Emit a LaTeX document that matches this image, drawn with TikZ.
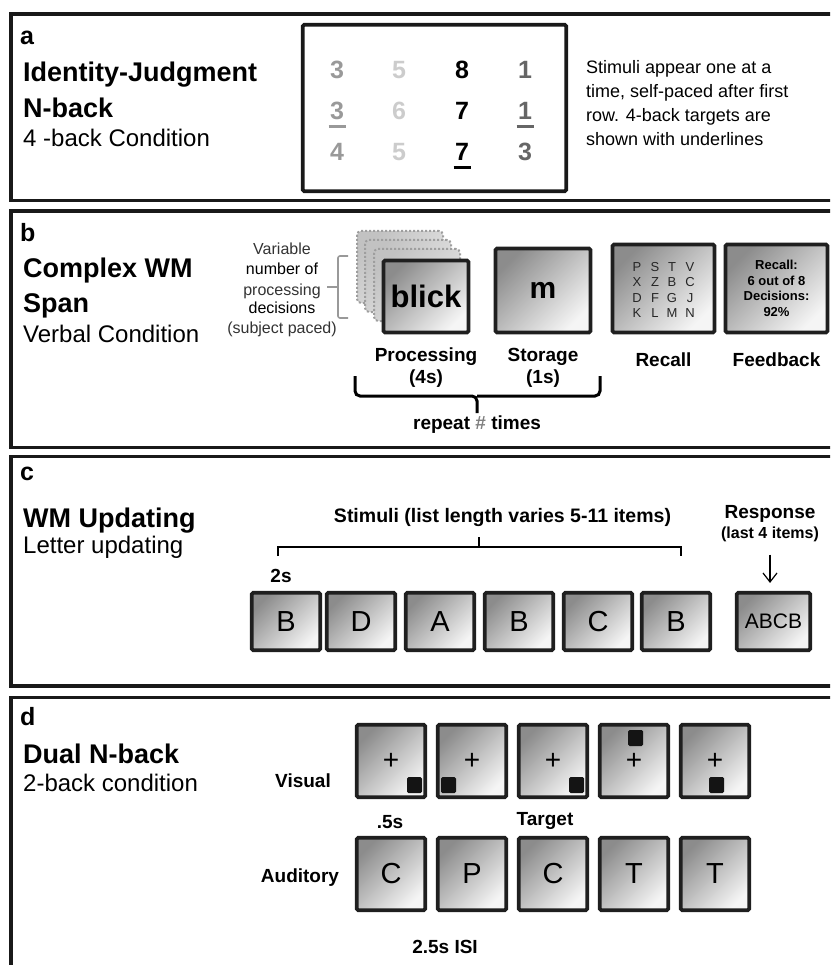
\documentclass[tikz,border=0pt]{standalone}
\usepackage{fontspec}
\setmainfont{Liberation Sans}
\usetikzlibrary{arrows.meta}

\newcommand{\fs}[1]{\fontsize{#1}{#1}\selectfont}

\begin{document}
\begin{tikzpicture}[x=1pt, y=-1pt,
        panel/.style={draw=black!90, line width=3.6pt},
        card/.style={draw=black!88, line width=3.6pt, rounded corners=1.5pt, inner sep=0pt,
            top color=black!45, bottom color=black!4, shading angle=45},
        ghost/.style={draw=black!38, line width=2pt, dotted, rounded corners=4pt, inner sep=0pt,
            top color=black!24, bottom color=black!9, shading angle=45},
        lbl/.style={inner sep=0pt, anchor=base},
        tag/.style={lbl, anchor=base west, font=\bfseries\fs{25}},
        head/.style={lbl, anchor=base west, font=\bfseries\fs{27}},
        sub/.style={lbl, anchor=base west, font=\fs{24}},
        boldlbl/.style={lbl, font=\bfseries\fs{19}}]
        \useasboundingbox (0,0) rectangle (830,965);
        \clip (0,0) rectangle (830,965);

        % a
        \draw[panel] (11,14.3) rectangle (850,200.7);
        \node[tag] (atag) at (20,45) {a};
        \node[head] (ahead) at (23,82) {Identity-Judgment};
        \node[head] (ahead2) at (23,118) {N-back};
        \node[sub] (asub) at (23,147) {4 -back Condition};
        \node[draw=black!90, line width=3.6pt, rounded corners=1.5pt, minimum width=263.5pt, minimum height=166.5pt] (grid) at (434.5,108) {};
        \foreach \d/\x/\y/\c [count=\i] in {3/337/79/black!40, 5/399/79/black!20, 8/462/79/black, 1/525/79/black!60,
                3/337/120/black!40, 6/399/120/black!20, 7/462/120/black, 1/525/120/black!60,
                4/337/161/black!40, 5/399/161/black!20, 7/462/161/black, 3/525/161/black!60}
            \node[lbl, font=\bfseries\fs{25}, text=\c] (n\i) at (\x,\y) {\d};
        \foreach \i/\c in {5/black!40, 8/black!60, 11/black}
            \draw[line width=3pt, \c] ([xshift=-8.5pt, yshift=-6.5pt]n\i.base) -- ++(17,0);
        \foreach \t/\y [count=\i] in {{Stimuli appear one at a}/74, {time, self-paced after first}/98,
                {row.  4-back targets are}/122, {shown with underlines}/146}
            \node[lbl, anchor=base west, font=\fs{18}] (anote\i) at (586,\y) {\t};

        % b
        \draw[panel] (11,211.3) rectangle (850,447.5);
        \node[tag] (btag) at (20,242) {b};
        \node[head] (bhead) at (23,277) {Complex WM};
        \node[head] (bhead2) at (23,312) {Span};
        \node[sub] (bsub) at (23,342) {Verbal Condition};
        \foreach \t/\y/\c [count=\i] in {Variable/255/black!80, number of/275/black, processing/295/black!80,
                decisions/313/black, (subject paced)/333/black!80}
            \node[lbl, font=\fs{16}, text=\c] (var\i) at (282,\y) {\t};
        \draw[black!40, line width=1.6pt, rounded corners=2pt] (348,256) -| (338,318) -- (348,318);
        \draw[black!40, line width=1.6pt] (327,287) -- (338,287);
        \foreach \x/\y [count=\i] in {355/229, 363/238, 372/247}
            \node[ghost, anchor=north west, minimum width=86pt, minimum height=72pt] (stack\i) at (\x+1,\y+1) {};
        \node[card, minimum width=85pt, minimum height=72pt, font=\bfseries\fs{31}] (proc) at (426,296.5) {blick};
        \node[card, minimum width=95pt, minimum height=84pt, font=\bfseries\fs{30}] (stor) at (543,290.5) {m};
        \node[card, minimum width=102pt, minimum height=88pt] (rec) at (663.5,288.5) {};
        \node[card, minimum width=102pt, minimum height=88pt, align=center,
            font=\bfseries\fontsize{13}{15.7}\selectfont] (fb) at (776.5,288.5) {Recall:\\6 out of 8\\Decisions:\\92\%};
        \foreach \l/\x/\y [count=\i] in {P/637/272, S/655/272, T/672/272, V/690/272,
                X/637/287, Z/655/287, B/672/287, C/690/287,
                D/637/302, F/655/302, G/672/302, J/690/302,
                K/637/317, L/655/317, M/672/317, N/690/317}
            \node[lbl, font=\fs{13}, text=black!85] (rl\i) at (\x,\y) {\l};
        \node[boldlbl] (proclbl) at (426,361) {Processing};
        \node[boldlbl] (proctime) at (426,383) {(4s)};
        \node[boldlbl] (storlbl) at (543,361) {Storage};
        \node[boldlbl] (stortime) at (543,383) {(1s)};
        \node[boldlbl] (reclbl) at (663.5,366) {Recall};
        \node[boldlbl] (fblbl) at (776.5,366) {Feedback};
        \draw[line width=3pt, rounded corners=5pt] (355,376) |- (477,396) -- (477,413);
        \draw[line width=3pt, rounded corners=5pt] (600,376) |- (477,396);
        \node[boldlbl] (repeat) at (477,429) {repeat \textcolor{black!50}{\#} times};

        % c
        \draw[panel] (11,456.5) rectangle (850,686);
        \node[tag] (ctag) at (20,480) {c};
        \node[head] (chead) at (23,527) {WM Updating};
        \node[sub] (csub) at (23,553) {Letter updating};
        \node[boldlbl, font=\bfseries\fs{19.5}] (stim) at (502.5,522) {Stimuli (list length varies 5-11 items)};
        \draw[line width=1.6pt] (278,556) |- (681,547) -- (681,556);
        \draw[line width=1.6pt] (479,547) -- (479,537);
        \node[boldlbl] (two) at (281,582) {2s};
        \foreach \l/\x [count=\i] in {B/250, D/325, A/404, B/483, C/562, B/640}
            \node[card, minimum width=68.5pt, minimum height=57.5pt, font=\fs{29}] (s\i) at (\x+36,621.5) {\l};
        \node[boldlbl] (resp) at (770,518) {Response};
        \node[boldlbl, font=\bfseries\fs{16}] (resp2) at (770,538) {(last 4 items)};
        \node[card, minimum width=73.5pt, minimum height=57.5pt, font=\fs{21}] (ans) at (773.5,621.5) {ABCB};
        \draw[line width=1.2pt, -{Straight Barb[length=9pt, width=14pt]}, shorten <=13pt, shorten >=8pt]
            (resp2.south) -- (resp2.south |- ans.north);

        % d
        \draw[panel] (11,697.5) rectangle (850,990);
        \node[tag] (dtag) at (20,725) {d};
        \node[head] (dhead) at (23,763) {Dual N-back};
        \node[sub] (dsub) at (23,791) {2-back condition};
        \foreach \x [count=\i] in {355, 436, 517, 598, 679}
            \node[card, minimum width=68.5pt, minimum height=72.5pt, font=\fs{28}] (v\i) at (\x+36,761) {+};
        \foreach \x/\y in {407/777, 441/777, 569/777, 628/730, 709/777}
            \fill[black!92, rounded corners=1.5pt] (\x,\y) rectangle ++(15,16);
        \foreach \l/\x [count=\i] in {C/355, P/436, C/517, T/598, T/679}
            \node[card, minimum width=68.5pt, minimum height=72.5pt, font=\fs{29}] (u\i) at (\x+36,874) {\l};
        \node[boldlbl] (vis) at (303,787) {Visual};
        \node[boldlbl] (aud) at (300,882) {Auditory};
        \node[boldlbl] (half) at (390,828) {.5s};
        \node[boldlbl] (target) at (545,825) {Target};
        \node[boldlbl] (isi) at (445,953) {2.5s ISI};
\end{tikzpicture}
\end{document}
